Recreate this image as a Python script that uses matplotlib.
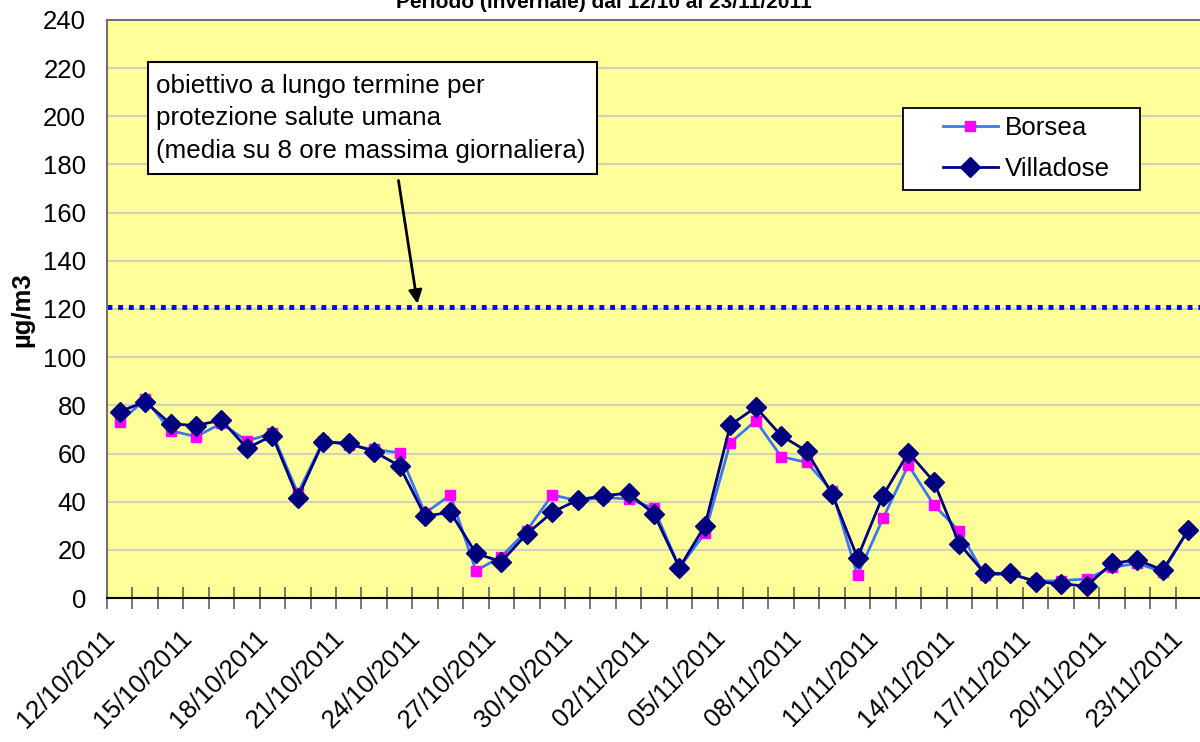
import numpy as np
import matplotlib
matplotlib.use("Agg")
import matplotlib.pyplot as plt
from matplotlib.patches import Rectangle
from matplotlib.ticker import FixedLocator

plt.rcParams['font.family'] = ['Liberation Sans', 'DejaVu Sans']

# Date giornaliere (12/10/2011 - 23/11/2011)
giorni = ([f"{d:02d}/10/2011" for d in range(12, 32)] +
          [f"{d:02d}/11/2011" for d in range(1, 24)])

# Media su 8 ore massima giornaliera (µg/m3)
borsea = [73, 82.5, 69.5, 67, 72.5, 65.2, 68.4, 43.5, 65.2, 63.5,
          61.7, 60.3, 35.2, 42.8, 11.3, 17.2, 28, 42.8, 40.4, 41.8,
          41.1, 37.2, 12.6, 26.9, 64.5, 73.6, 58.7, 56.3, 44.4, 9.5,
          33.1, 55.2, 38.6, 27.8, 9.5, 10, 7, 7.2, 7.9, 12.7,
          14.4, 10.8, 28.2]
villadose = [77.4, 81.5, 72.3, 71.6, 73.9, 62.2, 67.4, 41.7, 64.9, 64.2,
             60.8, 54.8, 34, 35.6, 18.5, 15.1, 26.6, 35.6, 40.7, 42.5,
             43.5, 34.9, 12.6, 30, 71.8, 79.2, 67.4, 61, 43.2, 16.7,
             42.5, 60.4, 48.3, 22.5, 10.2, 10.2, 6.8, 5.8, 5, 14.4,
             15.8, 11.6, 28.2]
obiettivo = 121

x = np.arange(len(giorni))

fig = plt.figure(figsize=(12, 7.42), dpi=100)
ax = fig.add_axes([107 / 1200, 1 - 598 / 742, 1094 / 1200, 578 / 742])
ax.set_facecolor('#FFFF99')

ax.set_ylim(0, 240)
ax.set_xlim(-0.5, len(giorni) - 0.5)
ax.set_yticks(np.arange(0, 241, 20))
ax.yaxis.grid(True, color='#C8C8C8', linewidth=1.2)
ax.set_axisbelow(True)

ax.axhline(obiettivo, color='#0000FF', linewidth=3.5, linestyle=(0, (1, 1.2)), zorder=2)

ax.plot(x, borsea, color='#3A78F0', linewidth=2, marker='s', markersize=7,
        markerfacecolor='#FF00FF', markeredgecolor='#FF00FF', label='Borsea', zorder=3)
ax.plot(x, villadose, color='#000080', linewidth=2, marker='D', markersize=10,
        markerfacecolor='#000080', markeredgecolor='#000080', label='Villadose', zorder=4)

# Assi
ax.set_xticks(x[::3])
ax.set_xticklabels(giorni[::3], fontsize=18.5, rotation=45, ha='right')
ax.xaxis.set_minor_locator(FixedLocator(np.arange(-0.5, len(giorni), 1)))
ax.tick_params(axis='x', which='major', length=0, pad=20)
ax.tick_params(axis='x', which='minor', direction='inout', length=16, width=1.2, color='#606060')
ax.tick_params(axis='y', length=0, labelsize=18.5, pad=15)
for s in ['left', 'top']:
    ax.spines[s].set_color('#707070')
    ax.spines[s].set_linewidth(1.5)
ax.spines['right'].set_visible(False)
ax.spines['bottom'].set_color('black')
ax.spines['bottom'].set_linewidth(1.5)

fig.text(22 / 1200, 1 - 310 / 742, 'µg/m3', rotation=90, ha='center', va='center',
         fontsize=18.5, fontweight='bold')
fig.text(604 / 1200, 1 - 8 / 742, 'Periodo (invernale) dal 12/10 al 23/11/2011',
         ha='center', va='baseline', fontsize=15, fontweight='bold')

# Riquadro annotazione
ax.add_patch(Rectangle((0.0375, 0.7336), 0.4104, 0.1937, transform=ax.transAxes,
                       facecolor='white', edgecolor='black', linewidth=1.5, zorder=5))
ax.text(0.0448, 0.907, 'obiettivo a lungo termine per\nprotezione salute umana\n'
        '(media su 8 ore massima giornaliera)', transform=ax.transAxes,
        ha='left', va='top', fontsize=18.7, linespacing=1.45, zorder=6)
ax.annotate('', xy=(11.72, obiettivo), xytext=(10.94, 174.5),
            arrowprops=dict(arrowstyle='-|>', color='black', lw=2, mutation_scale=20),
            zorder=6)

# Legenda (riquadro disegnato a parte)
ax.add_patch(Rectangle(((903 - 107) / 1094, (598 - 190) / 578), 237 / 1094, 82 / 578,
                       transform=ax.transAxes, facecolor='white', edgecolor='black',
                       linewidth=1.3, zorder=6))
leg = ax.legend(loc='center left', bbox_to_anchor=((943 - 107) / 1094, (598 - 148.5) / 578),
                borderaxespad=0, borderpad=0, fontsize=18.7, frameon=False,
                handlelength=2.1, handletextpad=0.3, labelspacing=0.65)
leg.set_zorder(7)

fig.savefig('out.png', dpi=100)
